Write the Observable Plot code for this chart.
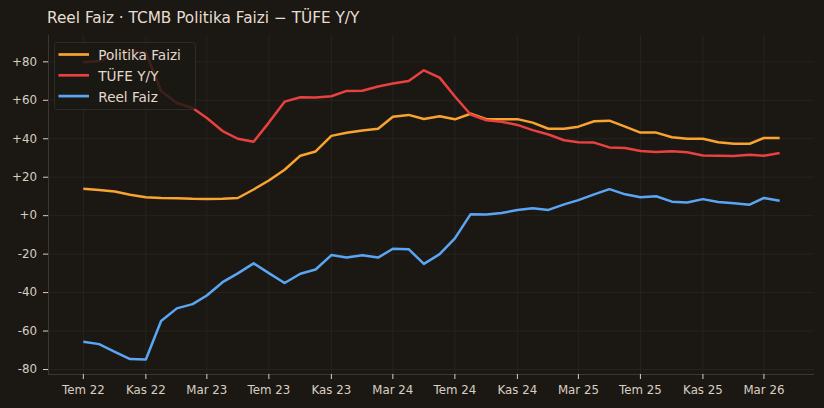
<!DOCTYPE html>
<html>
<head>
<meta charset="utf-8">
<script src="https://cdn.jsdelivr.net/npm/d3@7"></script>
<script src="https://cdn.jsdelivr.net/npm/@observablehq/plot@0.6"></script>
<style>
  html, body { margin: 0; padding: 0; background: #1b1814; }
  #wrap { position: relative; width: 824px; height: 408px; background: #1b1814; overflow: hidden; }
  #title { position: absolute; left: 47px; top: 11.3px; font: 15.3px/15.3px "DejaVu Sans", sans-serif; color: #e6ddd0; white-space: nowrap; }
  #chart { position: absolute; left: 0; top: 0; }
  #legend { position: absolute; left: 0; top: 0; pointer-events: none; }
</style>
</head>
<body>
<div id="wrap">
  <div id="chart"></div>
  <div id="title">Reel Faiz · TCMB Politika Faizi − TÜFE Y/Y</div>
  <svg id="legend" width="824" height="408"></svg>
</div>
<script>
// ---- data (monthly, Temmuz 2022 – Nisan 2026) ----
const months = [
  "2022-07","2022-08","2022-09","2022-10","2022-11","2022-12",
  "2023-01","2023-02","2023-03","2023-04","2023-05","2023-06",
  "2023-07","2023-08","2023-09","2023-10","2023-11","2023-12",
  "2024-01","2024-02","2024-03","2024-04","2024-05","2024-06",
  "2024-07","2024-08","2024-09","2024-10","2024-11","2024-12",
  "2025-01","2025-02","2025-03","2025-04","2025-05","2025-06",
  "2025-07","2025-08","2025-09","2025-10","2025-11","2025-12",
  "2026-01","2026-02","2026-03","2026-04"
];
const politikaFaizi = [
  14.0, 13.4, 12.6, 10.9, 9.6, 9.2,
  9.1, 8.8, 8.7, 8.8, 9.2, 13.6,
  18.3, 23.9, 31.2, 33.4, 41.5, 43.1,
  44.3, 45.2, 51.4, 52.4, 50.3, 51.7,
  50.1, 53.0, 50.2, 50.2, 50.2, 48.4,
  45.2, 45.2, 46.3, 49.1, 49.4, 46.3,
  43.2, 43.2, 40.8, 40.0, 40.0, 38.2,
  37.4, 37.4, 40.4, 40.4
];
const tufeYY = [
  79.8, 80.5, 83.3, 85.7, 84.8, 64.8,
  58.6, 56.0, 50.8, 44.0, 40.0, 38.4,
  48.4, 59.3, 61.6, 61.5, 62.1, 64.9,
  65.0, 67.2, 68.7, 70.0, 75.6, 71.8,
  62.0, 52.6, 49.6, 48.8, 47.2, 44.5,
  42.2, 39.2, 38.2, 38.0, 35.5, 35.2,
  33.6, 33.1, 33.5, 33.0, 31.3, 31.1,
  31.0, 31.7, 31.2, 32.6
];
const reelFaiz = [
  -65.6, -66.8, -70.8, -74.6, -74.8, -54.8,
  -48.2, -46.0, -41.5, -34.6, -30.0, -24.8,
  -29.9, -35.0, -30.2, -28.0, -20.5, -21.8,
  -20.6, -21.8, -17.2, -17.4, -25.1, -20.0,
  -11.8, 0.8, 0.6, 1.4, 2.9, 3.8,
  3.0, 5.9, 8.1, 11.1, 13.8, 11.1,
  9.6, 10.1, 7.3, 6.9, 8.6, 7.1,
  6.4, 5.7, 9.2, 7.8
];
const seriesNames = ["Politika Faizi", "TÜFE Y/Y", "Reel Faiz"];
const seriesColors = ["#f9a430", "#e8413f", "#5aa6f4"];
const xTickMonths = ["2022-07","2022-11","2023-03","2023-07","2023-11","2024-03","2024-07","2024-11","2025-03","2025-07","2025-11","2026-03"];
const xTickLabels = ["Tem 22","Kas 22","Mar 23","Tem 23","Kas 23","Mar 24","Tem 24","Kas 24","Mar 25","Tem 25","Kas 25","Mar 26"];
const yTicks = [-80, -60, -40, -20, 0, 20, 40, 60, 80];

// ---- build table ----
const parse = s => new Date(s + "-01T00:00:00Z");
const dates = months.map(parse);
const allSeries = [politikaFaizi, tufeYY, reelFaiz];
const rows = [];
allSeries.forEach((vals, k) => vals.forEach((v, i) => rows.push({date: dates[i], value: v, series: seriesNames[k]})));

const day = 864e5;
const xDomain = [new Date(+dates[0] - 68.5 * day), new Date(+dates[dates.length - 1] + 68.5 * day)];
const yDomain = [-82.6, 93.7];
const xTickDates = xTickMonths.map(parse);
const labelByTime = new Map(xTickDates.map((d, i) => [+d, xTickLabels[i]]));

const gridColor = "#2a2622";
const spineColor = "#3b3631";
const textColor = "#d8cfc2";

const chart = Plot.plot({
  width: 824,
  height: 408,
  marginTop: 35,
  marginBottom: 34,
  marginLeft: 48,
  marginRight: 10,
  style: {background: "transparent", color: textColor, fontFamily: "DejaVu Sans, sans-serif", fontSize: "11.8px"},
  x: {type: "utc", domain: xDomain},
  y: {domain: yDomain},
  color: {domain: seriesNames, range: seriesColors},
  marks: [
    Plot.gridY(yTicks, {stroke: gridColor, strokeOpacity: 1, strokeWidth: 0.8}),
    Plot.gridX(xTickDates, {stroke: gridColor, strokeOpacity: 1, strokeWidth: 0.8}),
    Plot.ruleX([xDomain[0]], {stroke: spineColor, strokeWidth: 1}),
    Plot.ruleY([yDomain[0]], {stroke: spineColor, strokeWidth: 1}),
    Plot.axisY(yTicks, {
      tickSize: 5, tickPadding: 6.5, label: null, stroke: textColor, fill: textColor,
      tickFormat: d => (d >= 0 ? "+" : "-") + Math.abs(d)
    }),
    Plot.axisX(xTickDates, {
      tickSize: 5, tickPadding: 6.5, label: null, stroke: textColor, fill: textColor,
      tickFormat: d => labelByTime.get(+d)
    }),
    Plot.lineY(rows, {x: "date", y: "value", stroke: "series", strokeWidth: 2.5, strokeLinejoin: "round", strokeLinecap: "butt"})
  ]
});
document.getElementById("chart").appendChild(chart);

// ---- legend (inside plot, top-left) ----
const lg = d3.select("#legend");
lg.append("rect")
  .attr("x", 54.5).attr("y", 42.5).attr("width", 141).attr("height", 67).attr("rx", 3)
  .attr("fill", "#1b1814").attr("fill-opacity", 0.82)
  .attr("stroke", "#2e2a25").attr("stroke-width", 1);
const baselines = [60, 80.8, 101.6];
seriesNames.forEach((name, i) => {
  lg.append("line")
    .attr("x1", 58.5).attr("x2", 89).attr("y1", baselines[i] - 5.5).attr("y2", baselines[i] - 5.5)
    .attr("stroke", seriesColors[i]).attr("stroke-width", 2.7);
  lg.append("text")
    .attr("x", 98.3).attr("y", baselines[i])
    .attr("fill", "#e2d9cc").attr("font-family", "DejaVu Sans, sans-serif").attr("font-size", 13.6)
    .text(name);
});
</script>
</body>
</html>
